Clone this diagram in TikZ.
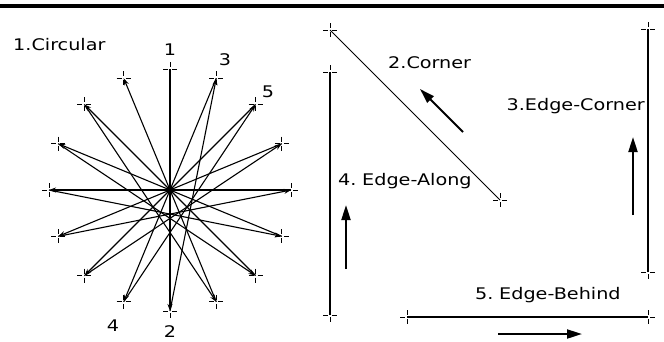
\documentclass[tikz,border=0pt]{standalone}
\usepackage{fontspec}
\newfontfamily\figfont[FakeStretch=1.2,WordSpace=0.6]{DejaVu Sans}
\usetikzlibrary{arrows.meta}
\tikzset{
  rule/.style={line width=3.5pt},
  staredge/.style={-{Stealth[length=7pt,width=5pt]},line width=1.1pt},
  frameline/.style={line width=2pt},
  thinline/.style={line width=0.8pt},
  dirarrow/.style={-{Triangle[length=15pt,width=9pt]},line width=2pt},
  lab/.style={font=\figfont\fontsize{16}{16}\selectfont,inner sep=0pt},
  tickline/.style={line width=1pt},
  pics/crossmark/.style={code={
    \draw[tickline] (-7,0) -- (-2,0) (2,0) -- (7,0) (0,-7) -- (0,-2) (0,2) -- (0,7);
  }}
}

\begin{document}
\begin{tikzpicture}[x=1pt,y=-1pt]
  \useasboundingbox (0,0) rectangle (664,341);
  \draw[rule] (0,6) -- (664,6);

  % circular layout
  \coordinate (c) at (170,190);
  \foreach \i/\a in {1/90,2/270,3/67.5,4/247.5,5/45,6/225,7/22.5,8/202.5,
                     9/0,10/180,11/-22.5,12/157.5,13/-45,14/135,15/-67.5,16/112.5} {
    \coordinate (p\i) at ({170+121*cos(\a)},{190-121*sin(\a)});
    \pic at (p\i) {crossmark};
  }
  \foreach \i in {1,...,15} {
    \pgfmathtruncatemacro{\j}{\i+1}
    \draw[staredge] (p\i) -- (p\j);
  }
  \fill (c) circle (3.5);
  \node[lab,anchor=base west] (circlab) at (13,50) {1.Circular};
  \node[lab,anchor=base] (n1) at (170,55) {1};
  \node[lab,anchor=base] (n3) at (225,65) {3};
  \node[lab,anchor=base] (n5) at (268,97) {5};
  \node[lab,anchor=base] (n4) at (113,331) {4};
  \node[lab,anchor=base] (n2) at (170,337) {2};

  % edge cases
  \coordinate (cornA) at (330,30);
  \coordinate (cornB) at (500,200);
  \coordinate (alongA) at (330,72);
  \coordinate (alongB) at (330,315);
  \coordinate (ecornA) at (648,29);
  \coordinate (ecornB) at (648,272);
  \coordinate (behindA) at (407,317);
  \coordinate (behindB) at (648,317);
  \foreach \p in {cornA,cornB,alongA,alongB,ecornA,ecornB,behindA,behindB}
    \pic at (\p) {crossmark};
  \draw[thinline] (cornA) -- (cornB);
  \draw[frameline] (alongA) -- (alongB);
  \draw[frameline] (ecornA) -- (ecornB);
  \draw[frameline] (behindA) -- (behindB);

  \node[lab,anchor=base west] (cornlab) at (388,68) {2.Corner};
  \node[lab,anchor=base east] (ecornlab) at (645,110) {3.Edge-Corner};
  \node[lab,anchor=base west] (alonglab) at (338,185) {4. Edge-Along};
  \node[lab,anchor=base west] (behindlab) at (475,299) {5. Edge-Behind};

  \coordinate (a2s) at (463,132); \coordinate (a2e) at (420,89);
  \coordinate (a3s) at (633,215); \coordinate (a3e) at (633,137);
  \coordinate (a4s) at (346,269); \coordinate (a4e) at (346,205);
  \coordinate (a5s) at (498,334); \coordinate (a5e) at (582,334);
  \draw[dirarrow] (a2s) -- (a2e);
  \draw[dirarrow] (a3s) -- (a3e);
  \draw[dirarrow] (a4s) -- (a4e);
  \draw[dirarrow] (a5s) -- (a5e);
\end{tikzpicture}
\end{document}
